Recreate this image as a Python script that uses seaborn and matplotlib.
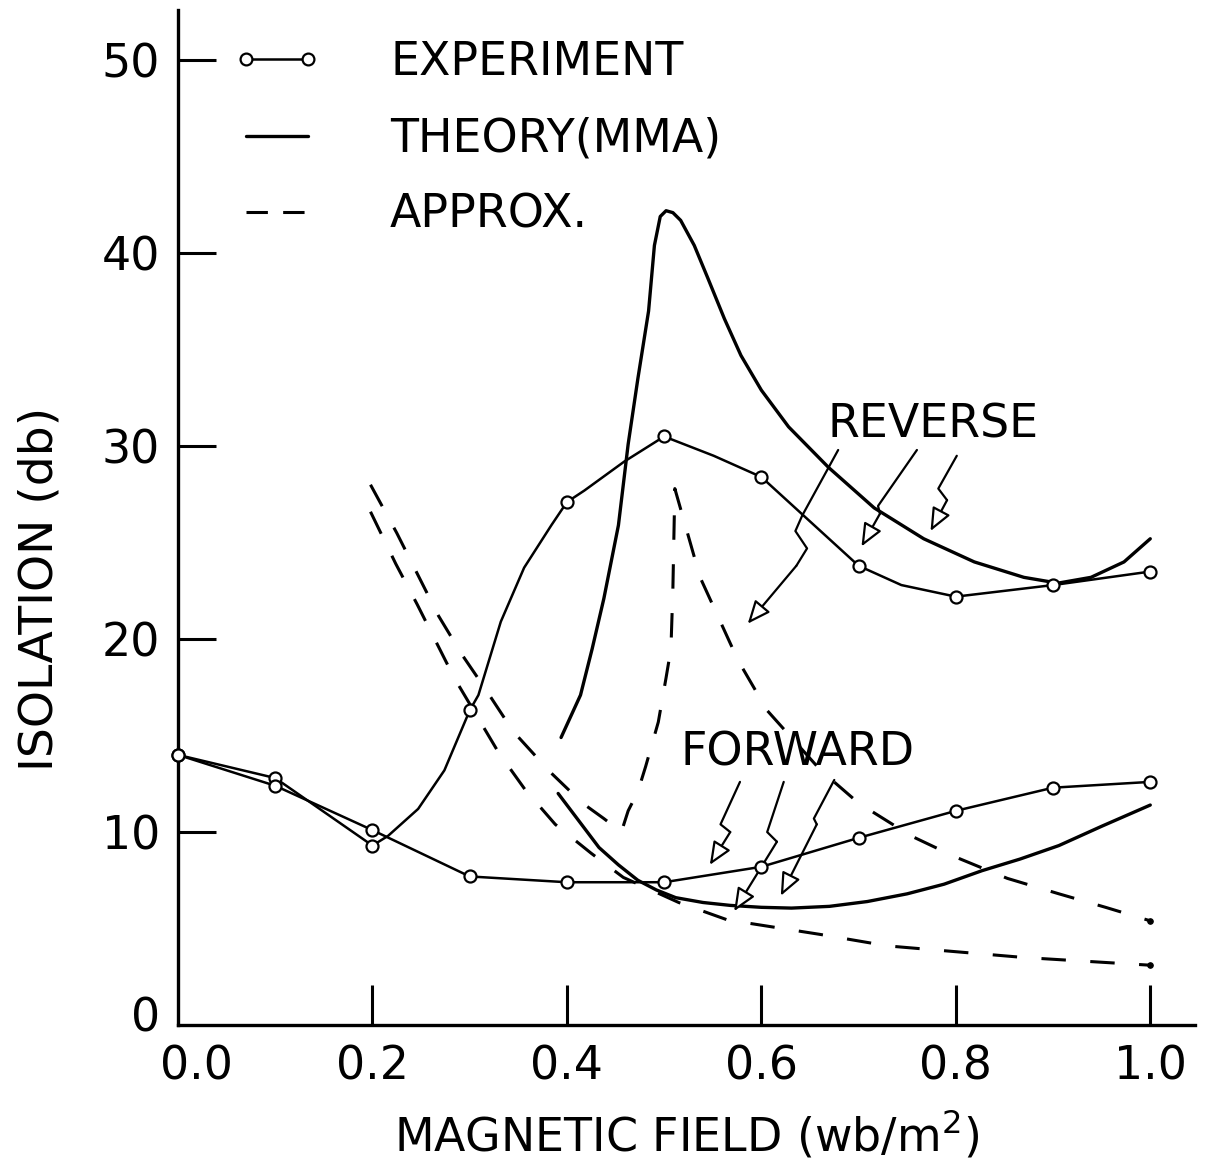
import matplotlib
matplotlib.use("Agg")
import matplotlib.pyplot as plt
from matplotlib.lines import Line2D
from matplotlib.ticker import FormatStrFormatter
from matplotlib.transforms import ScaledTranslation
import seaborn as sns

# ------------------------------------------------------------
# Data
# ------------------------------------------------------------
# measured points (open circles)
field_exp = [0.0, 0.1, 0.2, 0.3, 0.4, 0.5, 0.6, 0.7, 0.8, 0.9, 1.0]
exp_reverse = [14.0, 12.8, 9.3, 16.3, 27.1, 30.5, 28.4, 23.8, 22.2, 22.8, 23.5]
exp_forward = [14.0, 12.4, 10.1, 7.7, 7.4, 7.4, 8.2, 9.7, 11.1, 12.3, 12.6]

# hand-drawn curve through the reverse points
exp_rev_line_x = [0.0, 0.1, 0.2, 0.216, 0.247, 0.274, 0.3, 0.309, 0.332, 0.356,
                  0.384, 0.4, 0.418, 0.459, 0.5, 0.551, 0.6, 0.7, 0.744, 0.8,
                  0.9, 1.0]
exp_rev_line_y = [14.0, 12.8, 9.3, 9.8, 11.2, 13.2, 16.3, 17.1, 20.9, 23.7,
                  25.9, 27.1, 27.7, 29.2, 30.5, 29.5, 28.4, 23.8, 22.8, 22.2,
                  22.8, 23.5]

theory_rev_x = [0.394, 0.414, 0.426, 0.438, 0.453, 0.463, 0.473, 0.484, 0.490, 0.496,
                0.502, 0.509, 0.517, 0.531, 0.545, 0.562, 0.579, 0.600, 0.628, 0.669,
                0.716, 0.767, 0.819, 0.870, 0.905, 0.939, 0.973, 1.0]
theory_rev_y = [14.9, 17.1, 19.5, 22.1, 25.9, 30.1, 33.5, 37.0, 40.4, 41.9,
                42.2, 42.1, 41.7, 40.4, 38.7, 36.6, 34.7, 32.9, 31.0, 28.9,
                26.8, 25.2, 24.0, 23.2, 22.9, 23.2, 24.0, 25.2]

theory_fwd_x = [0.391, 0.412, 0.433, 0.453, 0.473, 0.492, 0.512, 0.54, 0.568, 0.6,
                0.631, 0.67, 0.709, 0.75, 0.788, 0.827, 0.866, 0.906, 0.95, 1.0]
theory_fwd_y = [12.0, 10.6, 9.2, 8.3, 7.5, 7.0, 6.6, 6.35, 6.2, 6.1,
                6.06, 6.15, 6.4, 6.8, 7.3, 8.0, 8.6, 9.3, 10.3, 11.4]

approx_rev_x = [0.198, 0.225, 0.246, 0.268, 0.292, 0.315, 0.345, 0.383, 0.416, 0.438,
                0.456, 0.463, 0.473, 0.481, 0.494, 0.502, 0.507, 0.509, 0.511, 0.537,
                0.576, 0.606, 0.661, 0.70, 0.754, 0.80, 0.853, 0.906, 0.954, 1.0]
approx_rev_y = [28.0, 25.5, 23.4, 21.2, 19.2, 17.5, 15.2, 13.1, 11.5, 10.7,
                10.0, 11.1, 12.1, 13.4, 15.7, 18.0, 19.5, 22.6, 27.8, 23.2,
                18.9, 16.3, 13.2, 11.5, 9.8, 8.7, 7.6, 6.8, 6.1, 5.4]

approx_fwd_x = [0.198, 0.224, 0.246, 0.265, 0.284, 0.33, 0.357, 0.388, 0.425, 0.458,
                0.515, 0.565, 0.66, 0.73, 0.8, 0.87, 1.0]
approx_fwd_y = [26.6, 23.9, 21.8, 19.9, 18.0, 14.1, 12.2, 10.4, 8.9, 7.65,
                6.35, 5.45, 4.7, 4.1, 3.8, 3.5, 3.1]

x_ticks = [0.0, 0.2, 0.4, 0.6, 0.8, 1.0]
y_ticks = [0, 10, 20, 30, 40, 50]

# zig-zag pointer arrows (data coords), last point is the arrow tip
reverse_arrows = [
    [(0.679, 29.8), (0.642, 26.4), (0.635, 25.6), (0.647, 24.7), (0.636, 23.8), (0.586, 20.8)],
    [(0.760, 29.8), (0.720, 26.9), (0.722, 26.5), (0.703, 24.8)],
    [(0.801, 29.5), (0.782, 27.8), (0.791, 27.2), (0.774, 25.6)],
]
forward_arrows = [
    [(0.578, 12.6), (0.558, 10.4), (0.568, 10.0), (0.547, 8.3)],
    [(0.623, 12.6), (0.606, 10.0), (0.616, 9.5), (0.572, 5.9)],
    [(0.675, 12.7), (0.654, 10.7), (0.657, 10.4), (0.620, 6.7)],
]

# ------------------------------------------------------------
# Plot
# ------------------------------------------------------------
sns.set_theme(style="white")
plt.rcParams["font.family"] = ["DejaVu Sans"]
plt.rcParams["text.color"] = "black"
plt.rcParams["axes.labelcolor"] = "black"

fig = plt.figure(figsize=(12.1, 11.66), dpi=100)
ax = fig.add_axes([0.1471, 0.1209, 0.8405, 0.8705])

marker_kw = dict(marker="o", s=75, facecolor="white", edgecolor="black",
                 linewidth=1.6, clip_on=False, zorder=5)

# experiment: drawn curve + measured circles
sns.lineplot(x=exp_rev_line_x, y=exp_rev_line_y, ax=ax, estimator=None, sort=False,
             color="black", lw=1.8, clip_on=False)
sns.lineplot(x=field_exp, y=exp_forward, ax=ax, estimator=None, sort=False,
             color="black", lw=1.8, clip_on=False)
sns.scatterplot(x=field_exp, y=exp_reverse, ax=ax, **marker_kw)
sns.scatterplot(x=field_exp, y=exp_forward, ax=ax, **marker_kw)

# theory (MMA)
sns.lineplot(x=theory_rev_x, y=theory_rev_y, ax=ax, estimator=None, sort=False,
             color="black", lw=2.4)
sns.lineplot(x=theory_fwd_x, y=theory_fwd_y, ax=ax, estimator=None, sort=False,
             color="black", lw=2.4)

# approximation
dash_kw = dict(color="black", lw=2.2, linestyle=(0, (8, 8)), marker="o",
               markersize=4, markevery=[-1], markerfacecolor="black",
               markeredgecolor="black")
sns.lineplot(x=approx_rev_x, y=approx_rev_y, ax=ax, estimator=None, sort=False, **dash_kw)
sns.lineplot(x=approx_fwd_x, y=approx_fwd_y, ax=ax, estimator=None, sort=False, **dash_kw)

# pointer arrows
for path in reverse_arrows + forward_arrows:
    xs = [p[0] for p in path[:-1]]
    ys = [p[1] for p in path[:-1]]
    ax.plot(xs, ys, color="black", lw=1.6)
    ax.annotate("", xy=path[-1], xytext=path[-2],
                arrowprops=dict(arrowstyle="-|>,head_length=0.7,head_width=0.3",
                                color="black", fc="white", lw=1.6,
                                shrinkA=0, shrinkB=0, mutation_scale=20))

ax.text(0.777, 31.1, "REVERSE", fontsize=33, ha="center", va="center")
ax.text(0.637, 14.1, "FORWARD", fontsize=33, ha="center", va="center")

# axes
ax.set_xlim(0, 1.046)
ax.set_ylim(0, 52.6)
ax.set_xticks(x_ticks)
ax.set_yticks(y_ticks)
ax.xaxis.set_major_formatter(FormatStrFormatter("%.1f"))
ax.tick_params(axis="both", direction="in", width=2.2, colors="black",
               labelsize=33, bottom=True, left=True)
ax.tick_params(axis="x", length=29, pad=14)
ax.tick_params(axis="y", length=27, pad=13)

# no tick mark at the origin; nudge the two origin labels apart as in the original
x0 = ax.xaxis.get_major_ticks()[0]
y0 = ax.yaxis.get_major_ticks()[0]
x0.tick1line.set_visible(False)
y0.tick1line.set_visible(False)
x0.label1.set_transform(x0.label1.get_transform()
                        + ScaledTranslation(0.18, 0, fig.dpi_scale_trans))
y0.label1.set_transform(y0.label1.get_transform()
                        + ScaledTranslation(0, 0.11, fig.dpi_scale_trans))

sns.despine(ax=ax)
for side in ("left", "bottom"):
    ax.spines[side].set_linewidth(2.4)
    ax.spines[side].set_color("black")

ax.set_xlabel("MAGNETIC FIELD (wb/m$^2$)", fontsize=33)
ax.xaxis.set_label_coords(0.5, -0.082)
ax.set_ylabel("ISOLATION (db)", fontsize=34)
ax.yaxis.set_label_coords(-0.114, 0.43)

handles = [
    Line2D([], [], color="black", lw=1.8, marker="o", markersize=8.5,
           markerfacecolor="white", markeredgecolor="black", markeredgewidth=1.6),
    Line2D([], [], color="black", lw=2.4),
    Line2D([], [], color="black", lw=2.2, linestyle=(0, (7, 5))),
]
ax.legend(handles, ["EXPERIMENT", "THEORY(MMA)", "APPROX."],
          loc="upper left", bbox_to_anchor=(0.053, 0.970), frameon=False,
          fontsize=33, numpoints=2, handlelength=1.97, handletextpad=1.48,
          labelspacing=0.68, borderaxespad=0, borderpad=0)

fig.savefig("out.png", dpi=100)
